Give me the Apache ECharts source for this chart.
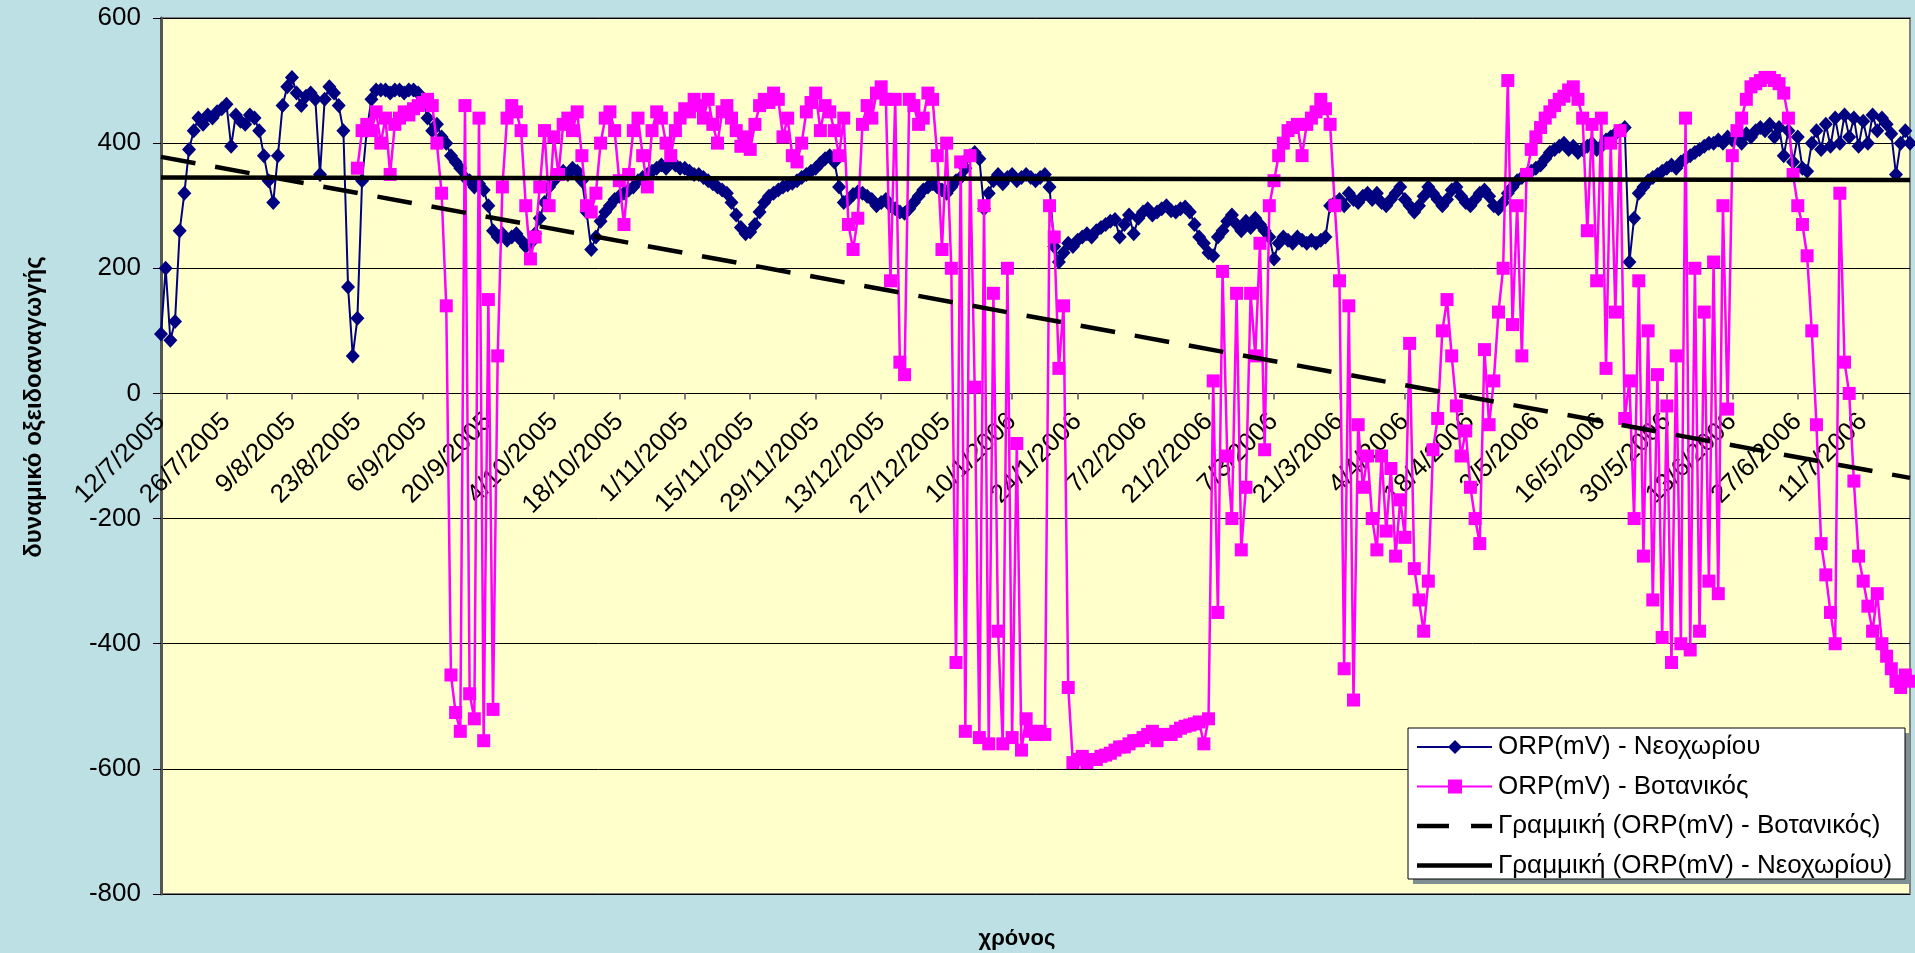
<!DOCTYPE html>
<html>
<head>
<meta charset="utf-8">
<script src="https://cdn.jsdelivr.net/npm/echarts@6/dist/echarts.min.js"></script>
<style>
html,body{margin:0;padding:0;background:#BCE0E4;}
#chart{width:1915px;height:953px;}
</style>
</head>
<body>
<div id="chart"></div>
<script>
// ---- categories: one per day from 12/7/2005 ----
const startDate = [2005, 7, 12];
const dayCount = 375;
const dates = [];
for (let i = 0; i < dayCount; i++) {
  const dt = new Date(Date.UTC(startDate[0], startDate[1] - 1, startDate[2] + i));
  dates.push(dt.getUTCDate() + '/' + (dt.getUTCMonth() + 1) + '/' + dt.getUTCFullYear());
}

// ---- ORP(mV) - Νεοχωρίου (daily) ----
const neochoriou = [
95,200,85,115,260,320,390,420,440,430,445,440,450,455,462,395,445,435,430,445,
440,420,380,340,305,380,460,490,505,480,460,475,480,470,350,470,490,480,460,420,
170,60,120,340,420,470,485,485,485,480,485,485,480,485,485,480,470,440,420,430,
410,400,380,370,360,345,340,330,335,325,300,260,250,255,245,250,255,245,235,240,
255,280,305,330,340,350,355,350,360,355,340,290,230,250,275,290,300,310,315,320,
325,330,340,345,350,355,360,365,360,370,365,360,360,355,350,350,345,340,335,330,
325,320,305,285,265,255,258,270,290,305,315,320,325,330,333,336,340,345,350,355,
360,368,375,380,370,330,305,310,318,322,320,315,310,300,305,310,300,295,290,288,
295,305,315,325,330,335,330,325,320,330,340,345,360,380,385,375,295,320,340,350,
335,345,350,340,345,350,345,340,345,350,330,235,210,225,240,235,245,250,255,250,
260,265,270,275,278,250,270,285,255,280,290,295,285,290,295,300,292,290,295,298,
290,270,250,240,225,220,250,260,275,285,270,260,275,265,280,270,260,250,215,240,
250,245,240,250,245,240,245,240,245,250,300,305,310,300,320,310,305,315,320,310,
320,305,300,310,320,330,310,300,290,300,315,330,320,310,300,310,325,330,315,305,
300,310,320,325,315,300,295,305,320,330,340,345,350,355,360,365,375,385,390,395,
400,390,395,385,390,395,400,390,395,405,410,415,420,425,210,280,320,330,340,345,
350,355,360,365,360,370,375,380,385,390,395,400,400,405,400,410,405,410,400,415,
410,420,425,420,430,410,425,380,420,370,410,360,355,400,420,390,430,395,440,400,
445,410,440,395,435,400,445,420,440,430,415,350,400,420,400
];

// ---- ORP(mV) - Βοτανικός (daily, starts later) ----
const votanikos = [
null,null,null,null,null,null,null,null,null,null,null,null,null,null,null,null,null,null,null,null,
null,null,null,null,null,null,null,null,null,null,null,null,null,null,null,null,null,null,null,null,
null,null,360,420,430,420,450,400,440,350,430,440,450,445,455,460,465,470,460,400,
320,140,-450,-510,-540,460,-480,-520,440,-555,150,-505,60,330,440,460,450,420,300,215,
250,330,420,300,410,350,430,440,420,450,380,300,290,320,400,440,450,420,340,270,
350,420,440,380,330,420,450,440,400,380,420,440,455,450,470,460,440,470,430,400,
450,460,440,420,395,410,390,430,460,470,465,480,470,410,440,380,370,400,450,465,
480,420,460,450,420,380,440,270,230,280,430,460,440,480,490,470,180,470,50,30,
470,460,430,440,480,470,380,230,400,200,-430,370,-540,380,10,-550,300,-560,160,-380,
-560,200,-550,-80,-570,-520,-540,-545,-540,-545,300,250,40,140,-470,-590,-585,-580,-590,-585,
-585,-580,-578,-575,-570,-565,-565,-560,-555,-555,-550,-545,-540,-555,-545,-545,-545,-540,-535,-532,
-530,-528,-525,-560,-520,20,-350,195,-100,-200,160,-250,-150,160,60,240,-90,300,340,380,
400,420,425,430,380,430,440,450,470,455,430,300,180,-440,140,-490,-50,-150,-100,-200,
-250,-100,-220,-120,-260,-170,-230,80,-280,-330,-380,-300,-90,-40,100,150,60,-20,-100,-60,
-150,-200,-240,70,-50,20,130,200,500,110,300,60,350,390,410,425,440,450,460,470,
475,485,490,470,440,260,430,180,440,40,400,130,420,-40,20,-200,180,-260,100,-330,
30,-390,-20,-430,60,-400,440,-410,200,-380,130,-300,210,-320,300,-25,380,420,440,470,
490,495,500,505,505,500,495,480,440,350,300,270,220,100,-50,-240,-290,-350,-400,320,
50,0,-140,-260,-300,-340,-380,-320,-400,-420,-440,-460,-470,-450,-460
];

// ---- linear trend lines (end values) ----
const trendVotanikos = [378, -135];
const trendNeochoriou = [345, 341];

// ---- axis ticks ----
const yTicks = [-800, -600, -400, -200, 0, 200, 400, 600];

const seriesNames = ['ORP(mV) - Νεοχωρίου', 'ORP(mV) - Βοτανικός',
  'Γραμμική (ORP(mV) - Βοτανικός)', 'Γραμμική (ORP(mV) - Νεοχωρίου)'];

const FONT = '"Liberation Sans", Arial, sans-serif';
const W = 1915, H = 953;
const G = {left: 161, right: 5, top: 18, bottom: 59};
const yMin = yTicks[0], yMax = yTicks[yTicks.length - 1];
const plotH = H - G.top - G.bottom;
// distance of the zero line above the bottom of the plot
const zeroOffset = plotH * (0 - yMin) / (yMax - yMin);

const chart = echarts.init(document.getElementById('chart'), null, {renderer: 'canvas'});
const lastIdx = dates.length - 1;

// ---- hand-built legend (box, sample lines, symbols, texts) ----
const LG = {x: 1408, y: 728, w: 497, h: 151, rowY0: 747, rowStep: 39.5, lx0: 1417, lx1: 1492, tx: 1498};
const legendEls = [
  {type: 'rect', z: 100, shape: {x: LG.x + 5, y: LG.y + 5, width: LG.w, height: LG.h},
   style: {fill: '#7f8f92'}},
  {type: 'rect', z: 101, shape: {x: LG.x, y: LG.y, width: LG.w, height: LG.h},
   style: {fill: '#FFFFFF', stroke: '#000', lineWidth: 1}}
];
seriesNames.forEach(function (nm, i) {
  const cy = LG.rowY0 + i * LG.rowStep;
  if (i === 0) {
    legendEls.push({type: 'line', z: 102, shape: {x1: LG.lx0, y1: cy, x2: LG.lx1, y2: cy},
      style: {stroke: '#000080', lineWidth: 2}});
    legendEls.push({type: 'polygon', z: 103,
      shape: {points: [[1455, cy - 7], [1462, cy], [1455, cy + 7], [1448, cy]]},
      style: {fill: '#000080'}});
  } else if (i === 1) {
    legendEls.push({type: 'line', z: 102, shape: {x1: LG.lx0, y1: cy, x2: LG.lx1, y2: cy},
      style: {stroke: '#FF00FF', lineWidth: 2}});
    legendEls.push({type: 'rect', z: 103, shape: {x: 1448, y: cy - 7, width: 14, height: 14},
      style: {fill: '#FF00FF'}});
  } else if (i === 2) {
    legendEls.push({type: 'line', z: 102, shape: {x1: LG.lx0, y1: cy, x2: 1449, y2: cy},
      style: {stroke: '#000', lineWidth: 4.5}});
    legendEls.push({type: 'line', z: 102, shape: {x1: 1471, y1: cy, x2: LG.lx1, y2: cy},
      style: {stroke: '#000', lineWidth: 4.5}});
  } else {
    legendEls.push({type: 'line', z: 102, shape: {x1: LG.lx0, y1: cy, x2: LG.lx1, y2: cy},
      style: {stroke: '#000', lineWidth: 4.5}});
  }
  legendEls.push({type: 'text', z: 104, x: LG.tx, y: cy,
    style: {text: nm, font: '26px ' + FONT, fill: '#000', textAlign: 'left', textVerticalAlign: 'middle'}});
});

chart.setOption({
  animation: false,
  backgroundColor: '#BCE0E4',
  textStyle: {fontFamily: FONT},
  grid: {
    left: G.left, right: G.right, top: G.top, bottom: G.bottom,
    show: true, backgroundColor: '#FFFFCC', borderColor: '#808080', borderWidth: 2
  },
  xAxis: {
    type: 'category', data: dates, boundaryGap: false,
    offset: -zeroOffset,
    axisLine: {onZero: false, lineStyle: {color: '#000', width: 1}},
    axisTick: {show: true, interval: 13, length: 6, lineStyle: {color: '#808080', width: 2}},
    axisLabel: {interval: 13, rotate: 45, fontSize: 26, color: '#000', margin: 24, fontFamily: FONT},
    splitLine: {show: false}
  },
  yAxis: {
    type: 'value', min: yMin, max: yMax, interval: 200,
    axisLine: {show: true, onZero: false, lineStyle: {color: '#555', width: 3}},
    axisTick: {show: true, length: 8, lineStyle: {color: '#000', width: 1}},
    axisLabel: {fontSize: 26, color: '#000', margin: 20, fontFamily: FONT},
    splitLine: {show: true, lineStyle: {color: '#000', width: 1}}
  },
  graphic: [
    {type: 'text', x: 34, y: 407, rotation: Math.PI / 2,
     style: {text: 'δυναμικό οξειδοαναγωγής', font: 'bold 24px ' + FONT, fill: '#000',
             textAlign: 'center', textVerticalAlign: 'middle'}},
    {type: 'text', x: 1017, y: 939,
     style: {text: 'χρόνος', font: 'bold 22px ' + FONT, fill: '#000',
             textAlign: 'center', textVerticalAlign: 'middle'}}
  ].concat(legendEls),
  series: [
    {
      name: seriesNames[0], type: 'line', data: neochoriou, z: 2,
      showAllSymbol: true, symbol: 'diamond', symbolSize: [14, 15],
      itemStyle: {color: '#000080'}, lineStyle: {color: '#000080', width: 2}
    },
    {
      name: seriesNames[1], type: 'line', data: votanikos, z: 3,
      showAllSymbol: true, symbol: 'rect', symbolSize: 13,
      itemStyle: {color: '#FF00FF'}, lineStyle: {color: '#FF00FF', width: 2.5}
    },
    {
      name: seriesNames[2], type: 'line', z: 4, symbol: 'none',
      data: [[dates[0], trendVotanikos[0]], [dates[lastIdx], trendVotanikos[1]]],
      lineStyle: {color: '#000', width: 4.5, type: [35, 20]}
    },
    {
      name: seriesNames[3], type: 'line', z: 4, symbol: 'none',
      data: [[dates[0], trendNeochoriou[0]], [dates[lastIdx], trendNeochoriou[1]]],
      lineStyle: {color: '#000', width: 4.5}
    }
  ]
});
</script>
</body>
</html>
